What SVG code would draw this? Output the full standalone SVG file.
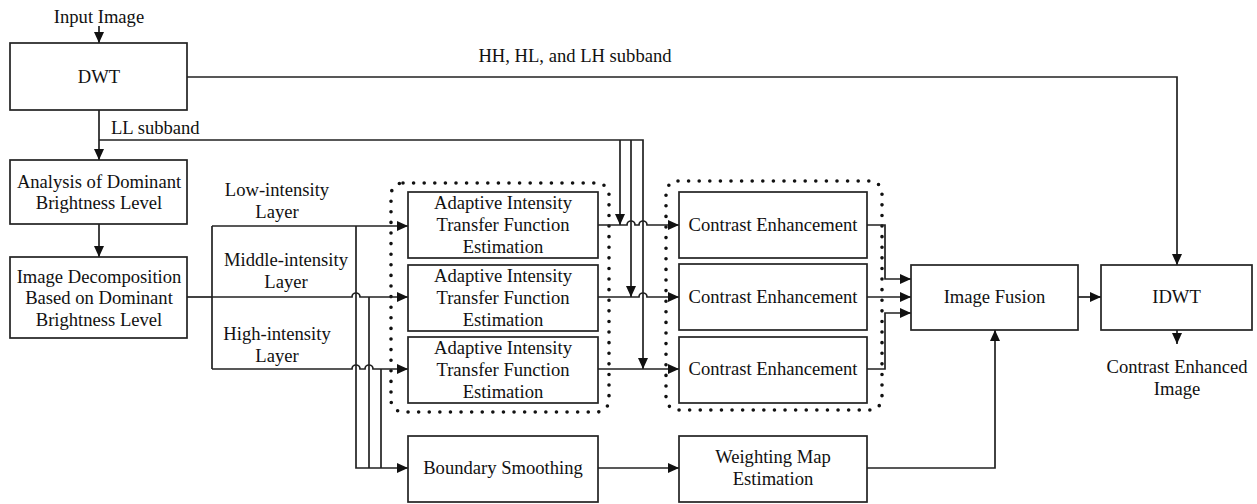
<svg xmlns="http://www.w3.org/2000/svg" width="1257" height="504" viewBox="0 0 1257 504">
<style>
.box{fill:#fff;stroke:#222;stroke-width:1.7}
.t{font-family:"Liberation Serif","Times New Roman",serif;font-size:18.6px;fill:#111;text-anchor:middle}
.c{fill:none;stroke:#222;stroke-width:1.7}
.a{marker-end:url(#ah)}
.dot{fill:none;stroke:#111;stroke-width:3.6;stroke-linecap:round;stroke-dasharray:0 10.6}
</style>
<defs>
<marker id="ah" markerUnits="userSpaceOnUse" markerWidth="12" markerHeight="10" refX="11" refY="5" orient="auto">
<path d="M0,0 L11,5 L0,10 z" fill="#111"/>
</marker>
</defs>
<rect width="1257" height="504" fill="#fff"/>
<g id="groups">
<rect class="dot" x="391" y="183" width="218" height="229" rx="12"/>
<rect class="dot" x="666" y="181" width="216" height="229" rx="12"/>
</g>
<g id="connectors">
<path class="c a" d="M99 26 V43"/>
<path class="c a" d="M187 77 H1177 V265"/>
<path class="c a" d="M99 110 V160"/>
<path class="c a" d="M99 140 H643 V369"/>
<path class="c a" d="M620 140 V225"/>
<path class="c a" d="M631 140 V297"/>
<path class="c a" d="M99 224 V257"/>
<path class="c" d="M187 297 H212"/>
<path class="c" d="M212 226 V369"/>
<path class="c a" d="M212 226 H408"/>
<path class="c a" d="M212 297 H352 A4 4 0 0 1 360 297 H408"/>
<path class="c a" d="M212 369 H352 A4 4 0 0 1 360 369 H365 A4 4 0 0 1 373 369 H408"/>
<path class="c a" d="M356 226 V468 H408"/>
<path class="c" d="M369 297 V468"/>
<path class="c" d="M381 369 V468"/>
<path class="c a" d="M598 225 H627 A4 4 0 0 1 635 225 H639 A4 4 0 0 1 647 225 H679"/>
<path class="c a" d="M598 297 H639 A4 4 0 0 1 647 297 H679"/>
<path class="c a" d="M598 369 H679"/>
<path class="c a" d="M867 225 H885 V279 H911"/>
<path class="c a" d="M867 297 H911"/>
<path class="c a" d="M867 369 H885 V313 H911"/>
<path class="c a" d="M1078 297 H1101"/>
<path class="c a" d="M1177 330 V344"/>
<path class="c a" d="M598 468 H679"/>
<path class="c a" d="M867 468 H995 V330"/>
</g>
<g id="labels">
<text class="t" x="99" y="23">Input Image</text>
<text class="t" x="575" y="62">HH, HL, and LH subband</text>
<text class="t" x="111" y="134" style="text-anchor:start">LL subband</text>
<text class="t" x="277" y="196">Low-intensity</text>
<text class="t" x="277" y="218">Layer</text>
<text class="t" x="286" y="266">Middle-intensity</text>
<text class="t" x="286" y="288">Layer</text>
<text class="t" x="277" y="340">High-intensity</text>
<text class="t" x="277" y="362">Layer</text>
<text class="t" x="1177" y="373">Contrast Enhanced</text>
<text class="t" x="1177" y="395">Image</text>
</g>
<g id="dwt"><rect class="box" x="10" y="43" width="177" height="67"/><text class="t" x="99" y="83">DWT</text></g>
<g id="analysis"><rect class="box" x="10" y="160" width="177" height="64"/><text class="t" x="99" y="188">Analysis of Dominant</text><text class="t" x="99" y="209">Brightness Level</text></g>
<g id="decomp"><rect class="box" x="10" y="257" width="177" height="81"/><text class="t" x="99" y="283">Image Decomposition</text><text class="t" x="99" y="304">Based on Dominant</text><text class="t" x="99" y="326">Brightness Level</text></g>
<g id="aitf1"><rect class="box" x="408" y="192" width="190" height="66"/><text class="t" x="503" y="209">Adaptive Intensity</text><text class="t" x="503" y="231">Transfer Function</text><text class="t" x="503" y="253">Estimation</text></g>
<g id="aitf2"><rect class="box" x="408" y="265" width="190" height="66"/><text class="t" x="503" y="282">Adaptive Intensity</text><text class="t" x="503" y="304">Transfer Function</text><text class="t" x="503" y="326">Estimation</text></g>
<g id="aitf3"><rect class="box" x="408" y="337" width="190" height="66"/><text class="t" x="503" y="354">Adaptive Intensity</text><text class="t" x="503" y="376">Transfer Function</text><text class="t" x="503" y="398">Estimation</text></g>
<g id="ce1"><rect class="box" x="679" y="192" width="188" height="66"/><text class="t" x="773" y="231">Contrast Enhancement</text></g>
<g id="ce2"><rect class="box" x="679" y="264" width="188" height="66"/><text class="t" x="773" y="303">Contrast Enhancement</text></g>
<g id="ce3"><rect class="box" x="679" y="337" width="188" height="66"/><text class="t" x="773" y="375">Contrast Enhancement</text></g>
<g id="fusion"><rect class="box" x="911" y="265" width="167" height="65"/><text class="t" x="994.5" y="303">Image Fusion</text></g>
<g id="idwt"><rect class="box" x="1101" y="265" width="151" height="65"/><text class="t" x="1176.5" y="303">IDWT</text></g>
<g id="boundary"><rect class="box" x="408" y="436" width="190" height="66"/><text class="t" x="503" y="474">Boundary Smoothing</text></g>
<g id="weighting"><rect class="box" x="679" y="436" width="188" height="66"/><text class="t" x="773" y="463">Weighting Map</text><text class="t" x="773" y="485">Estimation</text></g>
</svg>
